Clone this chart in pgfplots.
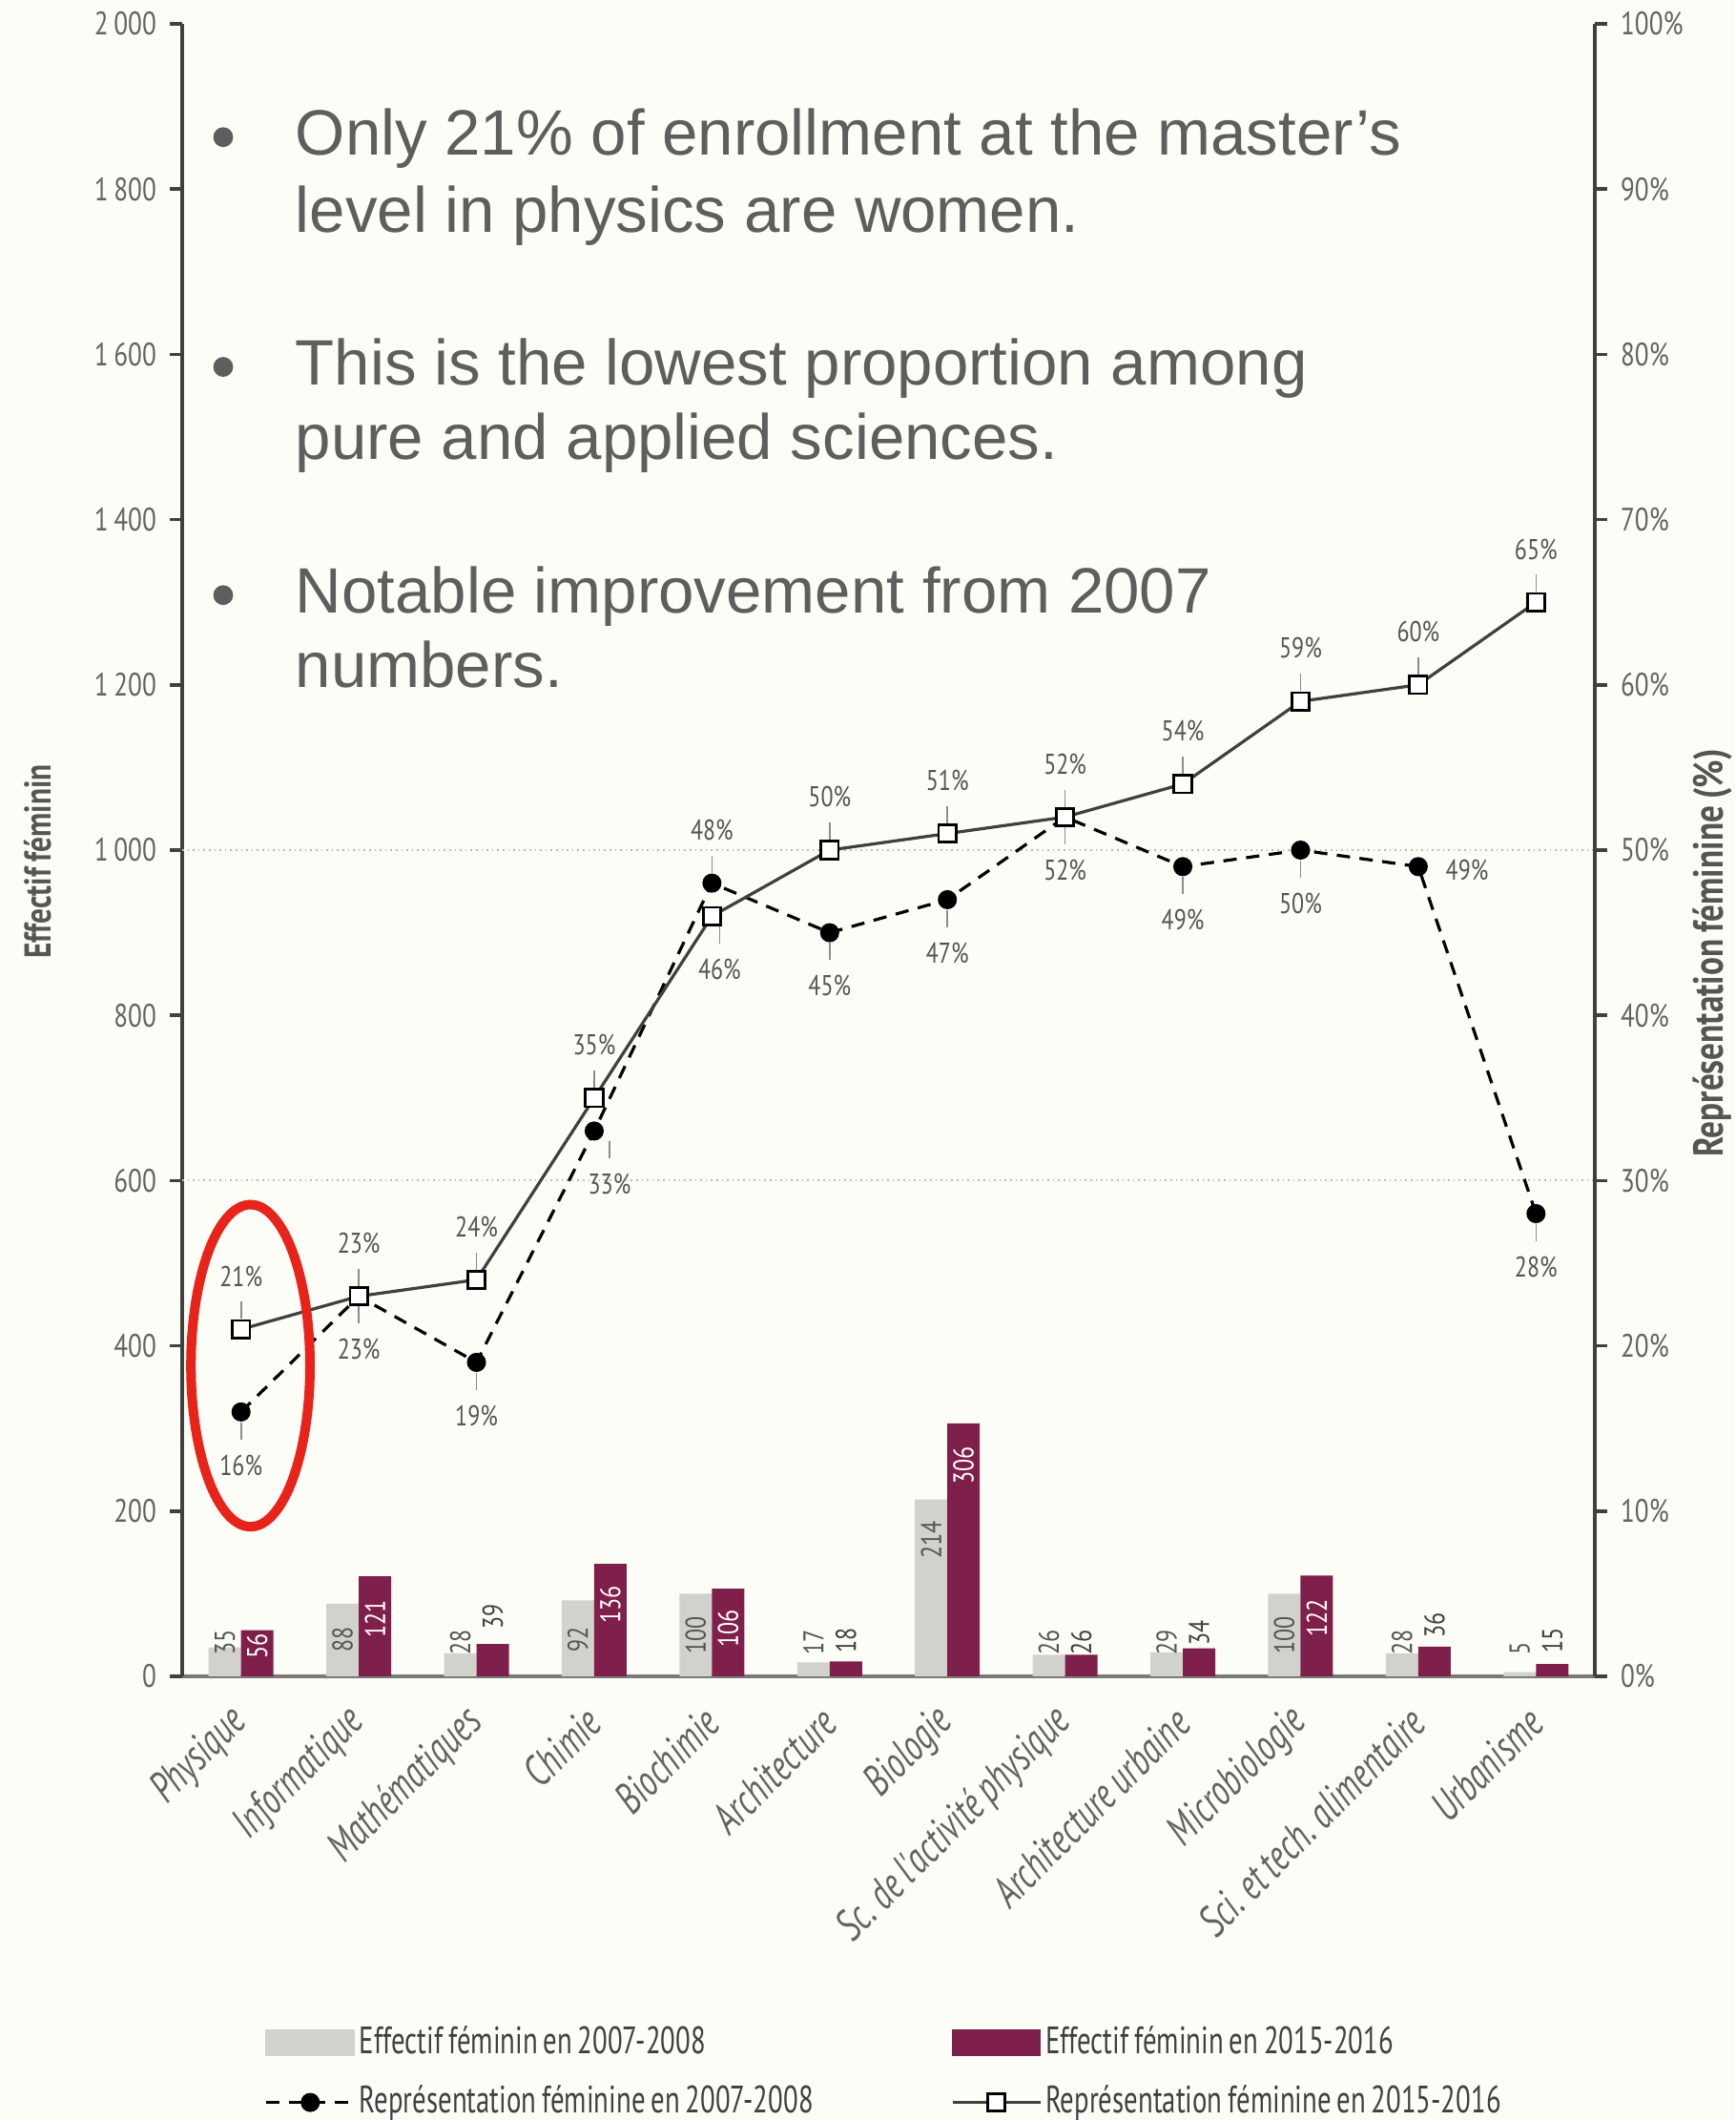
\documentclass[border=0pt]{standalone}
\usepackage{fontspec}
\setmainfont{PT Sans}[FakeStretch=0.8, WordSpace=0.8]
\newfontfamily\condfont{PT Sans}[FakeStretch=0.72, WordSpace=0.75]
\newfontfamily\slidefont{Liberation Sans}
\usepackage{pgfplots}
\pgfplotsset{compat=1.18}

\definecolor{bgcol}{HTML}{FDFDF8}
\definecolor{barGray}{HTML}{D2D2CD}
\definecolor{barMaroon}{HTML}{7F1F4B}
\definecolor{axisdark}{HTML}{404040}
\definecolor{axisgray}{HTML}{7A7A7A}
\definecolor{ticktext}{HTML}{636363}
\definecolor{labtext}{HTML}{555555}
\definecolor{leader}{HTML}{8C8C8C}
\definecolor{slidetext}{HTML}{5E5E5E}
\definecolor{ovalred}{HTML}{E8231A}

\newcommand\tickfont{\fontsize{8.5}{9.5}\selectfont}
\newcommand\catfont{\condfont\itshape\fontsize{11.5}{13}\selectfont}
\newcommand\axlabfont{\bfseries\fontsize{9.8}{11}\selectfont}
\newcommand\raxlabfont{\bfseries\fontsize{11}{12}\selectfont}
\newcommand\barfont{\fontsize{7.5}{8}\selectfont}
\newcommand\pctfont{\fontsize{7.5}{8}\selectfont}
\newcommand\legfont{\condfont\fontsize{10}{11}\selectfont}
% legend cells use align=left, which fixes \spaceskip; give the font's own space back
\newcommand\legtxt[1]{\spaceskip=0pt\relax #1}

\pgfplotsset{
  pctabove/.style={forget plot, only marks, mark size=0pt, mark options={draw=none, fill=none},
    point meta=y,
    nodes near coords={\shortstack{\pgfmathprintnumber{\pgfplotspointmeta}\%\\[1pt]\textcolor{leader}{\rule{0.4pt}{4.5pt}}}},
    every node near coord/.style={anchor=south, inner sep=0pt, yshift=2.5pt, font=\pctfont, text=labtext}},
  pctbelow/.style={forget plot, only marks, mark size=0pt, mark options={draw=none, fill=none},
    point meta=y,
    nodes near coords={\shortstack{\textcolor{leader}{\rule{0.4pt}{4.5pt}}\\[1pt]\pgfmathprintnumber{\pgfplotspointmeta}\%}},
    every node near coord/.style={anchor=north, inner sep=0pt, yshift=-2.5pt, font=\pctfont, text=labtext}},
  barlab/.style 2 args={forget plot, only marks, mark size=0pt, mark options={draw=none, fill=none},
    point meta=explicit symbolic, nodes near coords,
    every node near coord/.style={xshift=#1, rotate=90, anchor=#2, inner sep=0pt, font=\barfont}},
  linelegend/.style={legend image code/.code={%
    \draw[mark repeat=2, mark phase=2, ##1] plot coordinates {(0pt,0pt) (11.5pt,0pt) (23pt,0pt)};}},
  boxlegend/.style={legend image code/.code={\fill[#1] (0pt,-3.3pt) rectangle (23pt,3.3pt);}},
}

\begin{document}
\begin{tikzpicture}
\fill[bgcol, use as bounding box] (-47.75pt,-116.25pt) rectangle (407pt,439.25pt);

% counts (left axis)
\begin{axis}[
  at={(0,0)}, anchor=south west,
  scale only axis, width=370.25pt, height=433pt,
  xmin=-0.5, xmax=11.5, ymin=0, ymax=2000,
  axis x line*=bottom, axis y line*=left,
  x axis line style={-, color=axisgray, line width=0.8pt},
  y axis line style={-, color=axisdark, line width=0.9pt},
  xtick={0,...,11},
  xticklabels={Physique, Informatique, Mathématiques, Chimie, Biochimie, Architecture, Biologie,
    Sc. de l'activité physique, Architecture urbaine, Microbiologie, Sci. et tech. alimentaire, Urbanisme},
  x tick style={draw=none},
  xticklabel style={rotate=45, anchor=east, inner sep=0pt, font=\catfont, text=ticktext},
  xticklabel shift=7pt,
  ytick={0,200,...,2000},
  y tick style={color=axisdark, line width=0.9pt},
  tick align=outside, major tick length=3.25pt,
  yticklabel style={font=\tickfont, text=ticktext},
  /pgf/number format/assume math mode=true,
  /pgf/number format/1000 sep={\,},
  ylabel={Effectif féminin},
  ylabel style={font=\axlabfont, text=labtext, at={(axis description cs:-0.102,0.493)}, anchor=center},
  extra y ticks={600,1000}, extra y tick labels={},
  extra y tick style={grid=major, major grid style={densely dotted, gray!55, line width=0.5pt}, major tick length=0pt},
  clip=false,
]
\addplot[ybar, bar width=8.5pt, bar shift=-4.25pt, fill=barGray, draw=none]
  coordinates {(0,35) (1,88) (2,28) (3,92) (4,100) (5,17) (6,214) (7,26) (8,29) (9,100) (10,28) (11,5)};
\addplot[ybar, bar width=8.5pt, bar shift=4.25pt, fill=barMaroon, draw=none]
  coordinates {(0,56) (1,121) (2,39) (3,136) (4,106) (5,18) (6,306) (7,26) (8,34) (9,122) (10,36) (11,15)};

% bar value labels: inside near the top, or just above the short bars
\addplot[barlab={-4.25pt}{east}, every node near coord/.append style={text=labtext}]
  table[meta=lab] {
x y lab
1 61 88
3 61 92
4 73 100
6 189 214
9 73 100
};
\addplot[barlab={-4.25pt}{west}, every node near coord/.append style={text=labtext}]
  table[meta=lab] {
x y lab
0 25 35
2 25 28
5 25 17
7 25 26
8 25 29
10 25 28
11 25 5
};
\addplot[barlab={4.25pt}{east}, every node near coord/.append style={text=white}]
  table[meta=lab] {
x y lab
0 52 56
1 93 121
3 110 136
4 81 106
6 279 306
9 94 122
};
\addplot[barlab={4.25pt}{west}, every node near coord/.append style={text=axisdark}]
  table[meta=lab] {
x y lab
2 56 39
5 27 18
7 25 26
8 37 34
10 46 36
11 27 15
};
\end{axis}

% shares (right axis)
\begin{axis}[
  at={(0,0)}, anchor=south west,
  scale only axis, width=370.25pt, height=433pt,
  xmin=-0.5, xmax=11.5, ymin=0, ymax=100,
  axis x line=none, axis y line*=right,
  y axis line style={-, color=axisdark, line width=0.9pt},
  ytick={0,10,...,100},
  yticklabel={\pgfmathprintnumber{\tick}\%},
  y tick style={color=axisdark, line width=0.9pt},
  tick align=outside, major tick length=3.25pt,
  yticklabel style={font=\tickfont, text=ticktext},
  /pgf/number format/assume math mode=true,
  ylabel={Représentation féminine (\%)},
  ylabel style={font=\raxlabfont, text=labtext, at={(axis description cs:1.0837,0.4377)}, anchor=center},
  legend columns=2,
  legend cell align=left,
  legend style={at={(axis description cs:0.058,-0.209)}, anchor=north west, draw=none, fill=none,
    inner sep=0pt, font=\legfont, text=axisdark, row sep=4.9pt,
    nodes={inner xsep=1pt, inner ysep=1pt},
    /tikz/every even column/.append style={text width=154pt}},
  clip=false,
]
\addlegendimage{boxlegend=barGray}
\addlegendentry{\legtxt{Effectif féminin en 2007-2008}}
\addlegendimage{boxlegend=barMaroon}
\addlegendentry{\legtxt{Effectif féminin en 2015-2016}}

\addplot[black, line width=0.8pt, dash pattern=on 3.5pt off 2.5pt,
  mark=*, mark size=2.1pt, mark options={solid, fill=black}, linelegend]
  coordinates {(0,16) (1,23) (2,19) (3,33) (4,48) (5,45) (6,47) (7,52) (8,49) (9,50) (10,49) (11,28)};
\addlegendentry{\legtxt{Représentation féminine en 2007-2008}}

\addplot[axisdark, line width=0.8pt,
  mark=square*, mark size=2.3pt, mark options={fill=white, draw=black, line width=0.7pt}, linelegend]
  coordinates {(0,21) (1,23) (2,24) (3,35) (4,46) (5,50) (6,51) (7,52) (8,54) (9,59) (10,60) (11,65)};
\addlegendentry{\legtxt{Représentation féminine en 2015-2016}}

% percentage labels
\addplot[pctabove] coordinates {(0,21) (1,23) (2,24) (3,35) (5,50) (6,51) (7,52) (8,54) (9,59) (10,60) (11,65)};
\addplot[pctbelow, every node near coord/.append style={xshift=2pt}] coordinates {(4,46)};
\addplot[pctabove] coordinates {(4,48)};
\addplot[pctbelow] coordinates {(0,16) (1,23) (2,19) (5,45) (6,47) (7,52) (8,49) (9,50) (11,28)};
\addplot[pctbelow, every node near coord/.append style={xshift=4pt}] coordinates {(3,33)};
\addplot[forget plot, only marks, mark size=0pt, mark options={draw=none, fill=none}, point meta=y,
  nodes near coords={\pgfmathprintnumber{\pgfplotspointmeta}\%},
  every node near coord/.style={anchor=west, inner sep=0pt, xshift=7pt, yshift=-1pt, font=\pctfont, text=labtext}]
  coordinates {(10,49)};
\end{axis}

% slide overlay
\draw[ovalred, line width=2.5pt] (17.9pt,81.4pt) ellipse [x radius=15.6pt, y radius=42.2pt];
\begin{scope}[every node/.style={inner sep=0pt, text=slidetext, font=\slidefont\fontsize{16.8}{20}\selectfont}]
\fill[slidetext] (10.75pt,403.3pt) circle (2.6pt);
\node[anchor=base west] at (29.5pt,398.5pt) {Only 21\% of enrollment at the master’s};
\node[anchor=base west] at (29.5pt,378.25pt) {level in physics are women.};
\fill[slidetext] (10.75pt,343.1pt) circle (2.6pt);
\node[anchor=base west] at (29.5pt,338.25pt) {This is the lowest proportion among};
\node[anchor=base west] at (29.5pt,318.75pt) {pure and applied sciences.};
\fill[slidetext] (10.75pt,283.3pt) circle (2.6pt);
\node[anchor=base west] at (29.5pt,278.5pt) {Notable improvement from 2007};
\node[anchor=base west] at (29.5pt,259pt) {numbers.};
\end{scope}
\end{tikzpicture}
\end{document}
